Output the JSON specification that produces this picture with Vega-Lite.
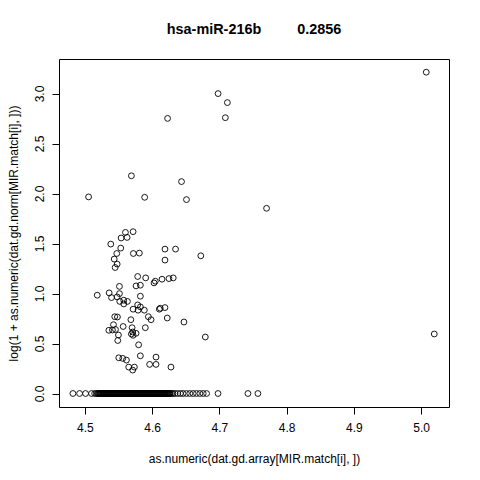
{
  "$schema": "https://vega.github.io/schema/vega-lite/v6.json",
  "width": 390,
  "height": 348,
  "autosize": {"type": "none"},
  "padding": {"left": 59, "top": 59, "right": 31, "bottom": 73},
  "background": "white",
  "title": {
    "text": "hsa-miR-216b\u00a0\u00a0\u00a0\u00a0\u00a0\u00a0\u00a0\u00a0\u00a00.2856",
    "font": "Liberation Sans",
    "fontSize": 14.4,
    "fontWeight": "bold",
    "color": "black",
    "baseline": "alphabetic",
    "offset": 11
  },
  "data": {
    "values": [
      {"x": 5.0077, "y": 3.213}, {"x": 4.6981, "y": 2.999}, {"x": 4.7119, "y": 2.909},
      {"x": 4.623, "y": 2.751}, {"x": 4.7089, "y": 2.758}, {"x": 4.5692, "y": 2.177},
      {"x": 4.6437, "y": 2.119}, {"x": 4.5055, "y": 1.966}, {"x": 4.5889, "y": 1.962},
      {"x": 4.6511, "y": 1.939}, {"x": 4.7702, "y": 1.852}, {"x": 4.5603, "y": 1.611},
      {"x": 4.5717, "y": 1.618}, {"x": 4.5539, "y": 1.555}, {"x": 4.5628, "y": 1.561},
      {"x": 4.5385, "y": 1.494}, {"x": 4.5533, "y": 1.454}, {"x": 4.5474, "y": 1.4},
      {"x": 4.5721, "y": 1.4}, {"x": 4.581, "y": 1.404}, {"x": 4.6191, "y": 1.444},
      {"x": 4.6348, "y": 1.444}, {"x": 4.6724, "y": 1.377}, {"x": 4.6191, "y": 1.334},
      {"x": 4.5436, "y": 1.344}, {"x": 4.548, "y": 1.294}, {"x": 4.545, "y": 1.26},
      {"x": 4.5785, "y": 1.17}, {"x": 4.5904, "y": 1.156}, {"x": 4.5761, "y": 1.076},
      {"x": 4.5825, "y": 1.083}, {"x": 4.6047, "y": 1.123}, {"x": 4.6028, "y": 1.106},
      {"x": 4.6147, "y": 1.143}, {"x": 4.625, "y": 1.149}, {"x": 4.6314, "y": 1.156},
      {"x": 4.5184, "y": 0.983}, {"x": 4.5361, "y": 1.006}, {"x": 4.5396, "y": 0.959},
      {"x": 4.5514, "y": 1.071}, {"x": 4.5514, "y": 0.999}, {"x": 4.548, "y": 0.966},
      {"x": 4.5519, "y": 0.921}, {"x": 4.5578, "y": 0.933}, {"x": 4.5633, "y": 0.921},
      {"x": 4.5578, "y": 0.896}, {"x": 4.5825, "y": 0.973}, {"x": 4.5785, "y": 0.886},
      {"x": 4.5825, "y": 0.866}, {"x": 4.5717, "y": 0.843}, {"x": 4.5791, "y": 0.833},
      {"x": 4.5884, "y": 0.833}, {"x": 4.6107, "y": 0.843}, {"x": 4.6121, "y": 0.853},
      {"x": 4.6191, "y": 0.859}, {"x": 4.5944, "y": 0.768}, {"x": 4.5984, "y": 0.738},
      {"x": 4.6225, "y": 0.755}, {"x": 4.6473, "y": 0.715}, {"x": 4.5684, "y": 0.738},
      {"x": 4.5444, "y": 0.768}, {"x": 4.5484, "y": 0.765}, {"x": 4.5425, "y": 0.688},
      {"x": 4.5569, "y": 0.67}, {"x": 4.5702, "y": 0.658}, {"x": 4.5899, "y": 0.658},
      {"x": 4.5356, "y": 0.632}, {"x": 4.541, "y": 0.635}, {"x": 4.5455, "y": 0.64},
      {"x": 4.5499, "y": 0.585}, {"x": 4.5711, "y": 0.615}, {"x": 4.5692, "y": 0.595},
      {"x": 4.5761, "y": 0.602}, {"x": 4.5717, "y": 0.582}, {"x": 4.6791, "y": 0.565},
      {"x": 4.5489, "y": 0.53}, {"x": 4.5799, "y": 0.487}, {"x": 4.5825, "y": 0.377},
      {"x": 4.5504, "y": 0.357}, {"x": 4.5563, "y": 0.351}, {"x": 4.5618, "y": 0.334},
      {"x": 4.6058, "y": 0.364}, {"x": 4.5963, "y": 0.291}, {"x": 4.6058, "y": 0.291},
      {"x": 4.628, "y": 0.264}, {"x": 4.5652, "y": 0.264}, {"x": 4.5736, "y": 0.264},
      {"x": 4.5711, "y": 0.234}, {"x": 5.0196, "y": 0.595},
      {"x": 4.4822, "y": 0}, {"x": 4.4921, "y": 0}, {"x": 4.501, "y": 0}, {"x": 4.5099, "y": 0},
      {"x": 4.5145, "y": 0}, {"x": 4.517, "y": 0}, {"x": 4.519, "y": 0},
      {"x": 4.520, "y": 0}, {"x": 4.521, "y": 0}, {"x": 4.522, "y": 0}, {"x": 4.523, "y": 0},
      {"x": 4.524, "y": 0}, {"x": 4.525, "y": 0}, {"x": 4.526, "y": 0}, {"x": 4.527, "y": 0},
      {"x": 4.528, "y": 0}, {"x": 4.529, "y": 0}, {"x": 4.530, "y": 0}, {"x": 4.531, "y": 0},
      {"x": 4.532, "y": 0}, {"x": 4.533, "y": 0}, {"x": 4.534, "y": 0}, {"x": 4.535, "y": 0},
      {"x": 4.536, "y": 0}, {"x": 4.537, "y": 0}, {"x": 4.538, "y": 0}, {"x": 4.539, "y": 0},
      {"x": 4.540, "y": 0}, {"x": 4.541, "y": 0}, {"x": 4.542, "y": 0}, {"x": 4.543, "y": 0},
      {"x": 4.544, "y": 0}, {"x": 4.545, "y": 0}, {"x": 4.546, "y": 0}, {"x": 4.547, "y": 0},
      {"x": 4.548, "y": 0}, {"x": 4.549, "y": 0}, {"x": 4.550, "y": 0}, {"x": 4.551, "y": 0},
      {"x": 4.552, "y": 0}, {"x": 4.553, "y": 0}, {"x": 4.554, "y": 0}, {"x": 4.555, "y": 0},
      {"x": 4.556, "y": 0}, {"x": 4.557, "y": 0}, {"x": 4.558, "y": 0}, {"x": 4.559, "y": 0},
      {"x": 4.560, "y": 0}, {"x": 4.561, "y": 0}, {"x": 4.562, "y": 0}, {"x": 4.563, "y": 0},
      {"x": 4.564, "y": 0}, {"x": 4.565, "y": 0}, {"x": 4.566, "y": 0}, {"x": 4.567, "y": 0},
      {"x": 4.568, "y": 0}, {"x": 4.569, "y": 0}, {"x": 4.570, "y": 0}, {"x": 4.571, "y": 0},
      {"x": 4.572, "y": 0}, {"x": 4.573, "y": 0}, {"x": 4.574, "y": 0}, {"x": 4.575, "y": 0},
      {"x": 4.576, "y": 0}, {"x": 4.577, "y": 0}, {"x": 4.578, "y": 0}, {"x": 4.579, "y": 0},
      {"x": 4.580, "y": 0}, {"x": 4.581, "y": 0}, {"x": 4.582, "y": 0}, {"x": 4.583, "y": 0},
      {"x": 4.584, "y": 0}, {"x": 4.585, "y": 0}, {"x": 4.586, "y": 0}, {"x": 4.587, "y": 0},
      {"x": 4.588, "y": 0}, {"x": 4.589, "y": 0}, {"x": 4.590, "y": 0}, {"x": 4.591, "y": 0},
      {"x": 4.592, "y": 0}, {"x": 4.593, "y": 0}, {"x": 4.594, "y": 0}, {"x": 4.595, "y": 0},
      {"x": 4.596, "y": 0}, {"x": 4.597, "y": 0}, {"x": 4.598, "y": 0}, {"x": 4.599, "y": 0},
      {"x": 4.600, "y": 0}, {"x": 4.601, "y": 0}, {"x": 4.602, "y": 0}, {"x": 4.603, "y": 0},
      {"x": 4.604, "y": 0}, {"x": 4.605, "y": 0}, {"x": 4.606, "y": 0}, {"x": 4.607, "y": 0},
      {"x": 4.608, "y": 0}, {"x": 4.609, "y": 0}, {"x": 4.610, "y": 0}, {"x": 4.611, "y": 0},
      {"x": 4.612, "y": 0}, {"x": 4.613, "y": 0}, {"x": 4.614, "y": 0}, {"x": 4.615, "y": 0},
      {"x": 4.616, "y": 0}, {"x": 4.617, "y": 0}, {"x": 4.618, "y": 0}, {"x": 4.619, "y": 0},
      {"x": 4.620, "y": 0}, {"x": 4.621, "y": 0}, {"x": 4.622, "y": 0}, {"x": 4.623, "y": 0},
      {"x": 4.624, "y": 0}, {"x": 4.625, "y": 0}, {"x": 4.626, "y": 0}, {"x": 4.627, "y": 0},
      {"x": 4.629, "y": 0}, {"x": 4.631, "y": 0}, {"x": 4.634, "y": 0}, {"x": 4.638, "y": 0},
      {"x": 4.642, "y": 0}, {"x": 4.646, "y": 0}, {"x": 4.651, "y": 0}, {"x": 4.656, "y": 0},
      {"x": 4.661, "y": 0}, {"x": 4.666, "y": 0}, {"x": 4.671, "y": 0}, {"x": 4.676, "y": 0},
      {"x": 4.681, "y": 0}, {"x": 4.698, "y": 0},
      {"x": 4.7425, "y": 0}, {"x": 4.7573, "y": 0}
    ]
  },
  "mark": {"type": "point", "shape": "circle", "filled": false, "stroke": "black", "strokeWidth": 0.9, "size": 34, "opacity": 1},
  "encoding": {
    "x": {
      "field": "x",
      "type": "quantitative",
      "scale": {"domain": [4.4615, 5.0415], "nice": false, "zero": false},
      "axis": {
        "title": "as.numeric(dat.gd.array[MIR.match[i], ])",
        "values": [4.5, 4.6, 4.7, 4.8, 4.9, 5.0],
        "format": ".1f",
        "grid": false,
        "domain": false,
        "tickSize": 7,
        "labelPadding": 8,
        "titleBaseline": "alphabetic",
        "titleY": 55
      }
    },
    "y": {
      "field": "y",
      "type": "quantitative",
      "scale": {"domain": [-0.135, 3.345], "nice": false, "zero": false},
      "axis": {
        "title": "log(1 + as.numeric(dat.gd.norm[MIR.match[i], ]))",
        "values": [0, 0.5, 1, 1.5, 2, 2.5, 3],
        "format": ".1f",
        "grid": false,
        "domain": false,
        "tickSize": 7,
        "labelAngle": -90,
        "labelAlign": "center",
        "labelBaseline": "alphabetic",
        "labelPadding": 9,
        "titleAngle": -90,
        "titleAlign": "center",
        "titleBaseline": "alphabetic",
        "titleX": -42,
        "titleY": 174
      }
    }
  },
  "config": {
    "view": {"stroke": "black", "strokeWidth": 1},
    "axis": {
      "labelFont": "Liberation Sans",
      "titleFont": "Liberation Sans",
      "labelFontSize": 12,
      "titleFontSize": 12,
      "titleFontWeight": "normal",
      "labelColor": "black",
      "titleColor": "black",
      "tickColor": "black",
      "labelOverlap": false,
      "labelFlush": false
    }
  }
}
